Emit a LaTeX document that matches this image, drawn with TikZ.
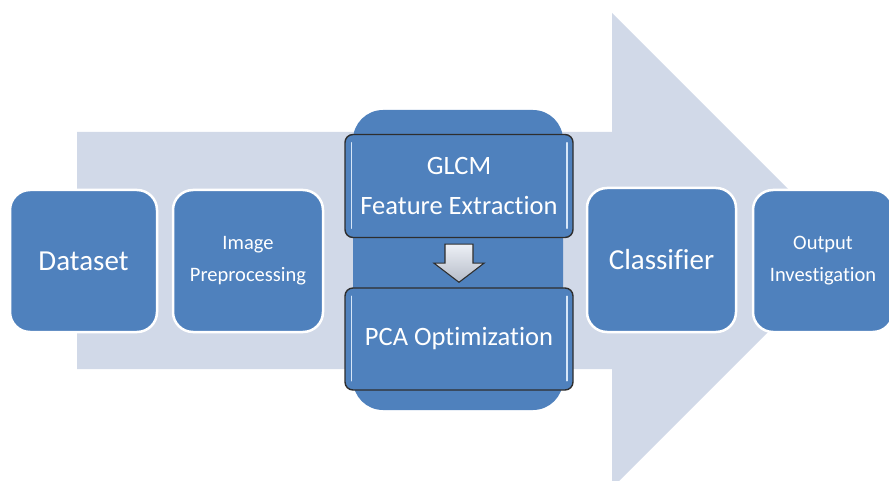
\documentclass[tikz,border=0pt]{standalone}
\usepackage{fontspec}
\setmainfont{Carlito}[Ligatures={NoCommon}]
\usetikzlibrary{calc}
\definecolor{boxblue}{HTML}{4F81BD}
\definecolor{bgarrow}{HTML}{D1D9E8}
\definecolor{edgedark}{HTML}{2E2E2E}
\definecolor{hilite}{HTML}{D6E6F8}
\begin{document}
\begin{tikzpicture}[x=1pt,y=-1pt,
  flatbox/.style={draw=white, line width=2.5pt, fill=boxblue, rounded corners=20pt,
    text=white, align=center, inner sep=0pt},
  bigtxt/.style={font=\fontsize{29}{34}\selectfont},
  smalltxt/.style={font=\fontsize{20.5}{32}\selectfont},
  glossbox/.style={draw=edgedark, line width=1.4pt, fill=boxblue, rounded corners=8pt,
    text=white, align=center, inner sep=0pt, minimum width=228pt,
    font=\fontsize{26.5}{40}\selectfont},
  hl/.style={draw=hilite, line width=1.6pt, line cap=round},
  downarrow/.style={draw=edgedark, line width=1.1pt, top color=white!60!bgarrow, bottom color=bgarrow!85!black!95, line join=miter}
]
\useasboundingbox (0,0) rectangle (889,481);
\begin{scope}
\clip (0,0) rectangle (889,481);
% big background arrow
\fill[bgarrow] (77,132) -- (612,132) -- (612,13) -- (849.5,250.5) -- (612,488)
  -- (612,369) -- (77,369) -- cycle;

% middle backing
\node[fill=boxblue, rounded corners=30pt, minimum width=210pt, minimum height=300pt,
  inner sep=0pt] (stage) at (458,260) {};

% flat boxes
\node[flatbox, bigtxt, minimum width=147pt, minimum height=142pt] (data) at (83.5,261) {Dataset};
\node[flatbox, smalltxt, minimum width=150pt, minimum height=142pt] (prep) at (248,261) {Image\\Preprocessing};
\node[flatbox, bigtxt, minimum width=149pt, minimum height=144pt] (clf) at (661.5,260) {Classifier};
\node[flatbox, smalltxt, minimum width=140pt, minimum height=142pt] (out) at (823,261) {Output\\Investigation};

% glossy boxes
\node[glossbox, minimum height=103pt] (glcm) at (459,186) {GLCM\\Feature Extraction};
\node[glossbox, minimum height=102pt] (pca) at (459,339) {PCA Optimization};

\foreach \b in {glcm,pca}{
  \draw[hl] ($(\b.north west)+(7,9)$) -- ($(\b.south west)+(7,-10)$);
  \draw[hl] ($(\b.north east)+(-7,9)$) -- ($(\b.south east)+(-7,-10)$);
}

% block arrow between glossy boxes
\coordinate (at) at ($(glcm.south)+(0,6)$);
\coordinate (ab) at ($(pca.north)+(0,-5)$);
\draw[downarrow] ($(at)+(-14,0)$) -- ($(at)+(14,0)$) -- ($(at)+(14,19)$)
  -- ($(at)+(25,19)$) -- (ab) -- ($(at)+(-25,19)$) -- ($(at)+(-14,19)$) -- cycle;
\end{scope}
\end{tikzpicture}
\end{document}
